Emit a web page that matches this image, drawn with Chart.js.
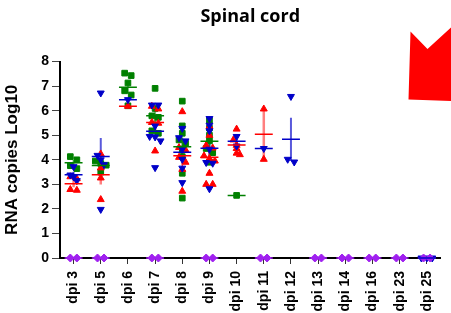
<!DOCTYPE html>
<html>
<head>
<meta charset="utf-8">
<script src="https://cdn.jsdelivr.net/npm/chart.js@4.4.1/dist/chart.umd.min.js"></script>
<style>
  html, body { margin: 0; padding: 0; background: #fff; }
</style>
</head>
<body>
<canvas id="chart" width="451" height="313"></canvas>
<script>
// Categories (days post infection)
const categories = ['dpi 3', 'dpi 5', 'dpi 6', 'dpi 7', 'dpi 8', 'dpi 9', 'dpi 10', 'dpi 11', 'dpi 12', 'dpi 13', 'dpi 14', 'dpi 16', 'dpi 23', 'dpi 25'];

// Values per category, one array per group (log10 RNA copies)
const greenValues = [
    [4.13, 4.0, 3.76, 3.64],
    [3.95, 3.85, 3.78, 3.5],
    [7.53, 7.43, 7.13, 6.81, 6.64, 6.2],
    [6.91, 6.09, 5.79, 5.73, 5.18, 5.08],
    [6.39, 5.38, 5.08, 4.81, 4.67, 4.43, 4.13, 3.45, 2.44],
    [5.6, 5.29, 5.0, 4.77, 4.46, 4.29, 3.9],
    [2.55],
    [], [], [], [], [], [], []
];
const redValues = [
    [3.31, 3.23, 2.79, 2.76],
    [4.24, 3.67, 3.26, 2.38],
    [6.18],
    [6.18, 6.07, 5.52, 5.49, 4.36],
    [5.96, 4.5, 4.4, 4.1, 3.9, 3.61, 2.72],
    [5.36, 5.0, 4.59, 4.48, 4.16, 4.05, 3.95, 3.45, 3.0, 3.0],
    [5.25, 4.81, 4.59, 4.46, 4.27, 4.21],
    [6.07, 4.02],
    [], [], [], [], [], []
];
const blueValues = [
    [3.72, 3.38, 3.3, 3.15],
    [6.72, 4.18, 4.0, 3.8, 1.98],
    [6.45],
    [6.23, 6.23, 5.38, 4.95, 4.93, 4.77, 3.68],
    [5.28, 4.9, 4.77, 4.43, 4.02, 3.66, 3.07],
    [5.68, 5.41, 5.18, 4.43, 3.89, 3.86, 2.82],
    [4.95, 4.56],
    [4.46],
    [6.58, 4.02, 3.91],
    [], [], [], [],
    [0, 0, 0]
];
const purpleValues = [
    [0, 0], [0, 0], [], [0, 0], [], [0, 0], [], [0, 0], [], [0, 0], [0, 0], [0, 0], [0, 0], [0, 0]
];

const GREEN = '#008000';
const RED = '#ff0000';
const BLUE = '#0000c8';
const PURPLE = '#a020f0';

function mean(a) {
    return a.reduce((s, v) => s + v, 0) / a.length;
}

function sem(a) {
    if (a.length < 2) return 0;
    const m = mean(a);
    const ss = a.reduce((s, v) => s + (v - m) * (v - m), 0);
    return Math.sqrt(ss / (a.length - 1)) / Math.sqrt(a.length);
}

// horizontal spread for points with close values
function spread(vals) {
    return vals.map((v, i) => {
        const near = [];
        vals.forEach((w, j) => { if (Math.abs(w - v) < 0.22) near.push(j); });
        const rank = near.indexOf(i);
        const off = (rank - (near.length - 1) / 2) * 0.24;
        return Math.max(-0.2, Math.min(0.2, off));
    });
}

function pointData(series) {
    const out = [];
    series.forEach((vals, i) => {
        const offs = spread(vals);
        vals.forEach((v, k) => out.push({ x: i + offs[k], y: v }));
    });
    return out;
}

function meanData(series) {
    const out = [];
    series.forEach((vals, i) => {
        if (!vals.length) return;
        const m = mean(vals);
        out.push({ x: i - 0.33, y: m }, { x: i + 0.33, y: m }, { x: i, y: null });
    });
    return out;
}

function errorData(series) {
    const out = [];
    series.forEach((vals, i) => {
        if (vals.length < 2) return;
        const m = mean(vals);
        const e = sem(vals);
        out.push({ x: i, y: m - e }, { x: i, y: m + e }, { x: i, y: null });
    });
    return out;
}

function pointSet(series, color, style, rotation, order) {
    return {
        data: pointData(series),
        backgroundColor: color,
        borderColor: color,
        pointStyle: style,
        pointRotation: rotation,
        pointRadius: 4,
        pointBorderWidth: 1,
        showLine: false,
        clip: false,
        order: order
    };
}

function lineSet(data, color, width, order) {
    return {
        data: data,
        borderColor: color,
        borderWidth: width,
        pointRadius: 0,
        showLine: true,
        spanGaps: false,
        clip: false,
        order: order
    };
}

// red corner mark top right
const cornerMark = {
    id: 'cornerMark',
    afterDraw(chart) {
        const ctx = chart.ctx;
        ctx.save();
        ctx.fillStyle = '#ff0000';
        ctx.beginPath();
        ctx.moveTo(410.5, 31.5);
        ctx.lineTo(427.5, 49);
        ctx.lineTo(451, 27.5);
        ctx.lineTo(451, 101);
        ctx.lineTo(408.5, 99.5);
        ctx.closePath();
        ctx.fill();
        ctx.restore();
    }
};

const ctx = document.getElementById('chart').getContext('2d');
new Chart(ctx, {
    type: 'scatter',
    data: {
        datasets: [
            lineSet(errorData(greenValues), 'rgba(0,128,0,0.55)', 2, 10),
            lineSet(errorData(redValues), 'rgba(255,0,0,0.5)', 2.5, 10),
            lineSet(errorData(blueValues), 'rgba(0,0,200,0.65)', 2, 10),
            pointSet(greenValues, GREEN, 'rect', 0, 6),
            pointSet(redValues, RED, 'triangle', 0, 5),
            pointSet(blueValues, BLUE, 'triangle', 180, 4),
            pointSet(purpleValues, PURPLE, 'rectRot', 0, 3),
            lineSet(meanData(greenValues), GREEN, 1.5, 1),
            lineSet(meanData(redValues), RED, 1.5, 1),
            lineSet(meanData(blueValues), BLUE, 1.5, 1),
            lineSet(meanData(purpleValues), PURPLE, 1.5, 1)
        ]
    },
    options: {
        responsive: false,
        animation: false,
        devicePixelRatio: 1,
        layout: { padding: 0 },
        plugins: {
            legend: { display: false },
            tooltip: { enabled: false },
            title: {
                display: true,
                text: 'Spinal cord',
                fullSize: false,
                color: '#000',
                font: { family: 'Open Sans', size: 18, weight: 'bold' },
                padding: { top: 6, bottom: 34 }
            }
        },
        scales: {
            x: {
                type: 'linear',
                min: -0.5,
                max: 13.5,
                afterBuildTicks: (scale) => {
                    scale.ticks = categories.map((c, i) => ({ value: i }));
                },
                afterFit: (scale) => { scale.height = 55; },
                ticks: {
                    autoSkip: false,
                    minRotation: 90,
                    maxRotation: 90,
                    padding: 7,
                    color: '#000',
                    font: { family: 'Liberation Sans', size: 14, weight: 'bold' },
                    callback: (value, index) => categories[index]
                },
                grid: { drawOnChartArea: false, tickLength: 6, color: '#333' },
                border: { color: '#000', width: 2 }
            },
            y: {
                min: 0,
                max: 8,
                afterFit: (scale) => { scale.width = 60; },
                ticks: {
                    stepSize: 1,
                    padding: 3,
                    color: '#000',
                    font: { family: 'Liberation Sans', size: 14, weight: 'bold' }
                },
                grid: { drawOnChartArea: false, tickLength: 8, color: '#444' },
                border: { color: '#000', width: 2 },
                title: {
                    display: true,
                    text: 'RNA copies Log10',
                    color: '#000',
                    font: { family: 'Liberation Sans', size: 17, weight: 'bold' },
                    padding: { top: 2, bottom: 0 }
                }
            }
        }
    },
    plugins: [cornerMark]
});
</script>
</body>
</html>
